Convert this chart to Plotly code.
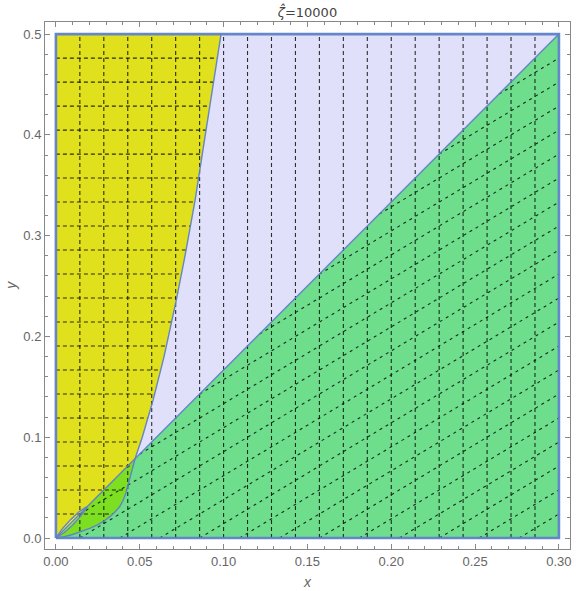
import numpy as np
import plotly.graph_objects as go

# --- values ---

# full box and the straight green/lavender boundary (origin -> top right corner)
box_x = [0.0, 0.3, 0.3, 0.0]
box_y = [0.0, 0.0, 0.5, 0.5]
diag_x = [0.0, 0.3]
diag_y = [0.0, 0.5]

# yellow / lavender boundary: junction with the diagonal up to the top edge
upper_x = [0.0472, 0.0515, 0.0580, 0.0645, 0.0718, 0.0770, 0.0830, 0.0872, 0.0909, 0.0946, 0.0985]
upper_y = [0.0787, 0.100, 0.137, 0.180, 0.236, 0.280, 0.335, 0.380, 0.420, 0.460, 0.500]

# lower edge of the bright green sliver: origin up to the junction
lower_x = [0.0, 0.005, 0.010, 0.015, 0.0202, 0.0245, 0.0281, 0.0320, 0.0351, 0.0380,
           0.0400, 0.0418, 0.0432, 0.0447, 0.0460, 0.0472]
lower_y = [0.0, 0.0013, 0.0035, 0.0062, 0.0096, 0.0128, 0.0162, 0.0210, 0.0255, 0.0310,
           0.0370, 0.0450, 0.0540, 0.0620, 0.0700, 0.0787]

# the small lens close to the origin
lens_top_x = [0.0, 0.004, 0.009, 0.014, 0.0175, 0.0186]
lens_top_y = [0.0, 0.0095, 0.0185, 0.0262, 0.0302, 0.031]
lens_bot_x = [0.0, 0.005, 0.010, 0.015, 0.0178, 0.0186]
lens_bot_y = [0.0, 0.0055, 0.0130, 0.0222, 0.0285, 0.031]

n_mesh = 20  # mesh lines per direction

# colours
yellow = "#e0e01c"
lavender = "#e0e0fa"
green = "#6ede8c"
bright_green = "#7ddf22"
lens_yellow = "#f6f64a"
lens_green = "#a6e64a"
edge = "rgba(94,129,200,0.95)"
mesh = "rgba(0,0,0,0.8)"
grey = "#666666"


def fill(xs, ys, color):
    return go.Scatter(x=xs, y=ys, fill="toself", fillcolor=color, mode="lines",
                      line=dict(width=0), hoverinfo="skip", showlegend=False)


def segs(pairs):
    """Join line segments into one trace with None gaps."""
    xs, ys = [], []
    for (x0, y0), (x1, y1) in pairs:
        xs += [x0, x1, None]
        ys += [y0, y1, None]
    return xs, ys


fig = go.Figure()

# filled regions
fig.add_trace(fill(box_x, box_y, lavender))
fig.add_trace(fill([0.0, 0.3, 0.3], [0.0, 0.0, 0.5], green))
fig.add_trace(fill(lower_x + upper_x[1:] + [0.0],
                   lower_y + upper_y[1:] + [0.5], yellow))
fig.add_trace(fill(lower_x + [0.0], lower_y + [0.0], bright_green))
fig.add_trace(fill(lens_top_x + [0.0], lens_top_y + [0.0], lens_yellow))
fig.add_trace(fill(lens_bot_x + [0.0], lens_bot_y + [0.0], lens_green))

# mesh lines
x_lo, x_hi = 0.0, 0.3
y_lo, y_hi = 0.0, 0.5
junc_y = upper_y[0]

# vertical lines through every region
vx = [x_lo + k * (x_hi - x_lo) / (n_mesh + 1) for k in range(1, n_mesh + 1)]
xs, ys = segs([((v, y_lo), (v, y_hi)) for v in vx])
fig.add_trace(go.Scatter(x=xs, y=ys, mode="lines", showlegend=False, hoverinfo="skip",
                         line=dict(color=mesh, width=1.1, dash="4px,3px")))

# horizontal lines, only inside the yellow region
hy = [y_lo + k * (y_hi - y_lo) / (n_mesh + 1) for k in range(1, n_mesh + 1)]
pairs = []
for h in hy:
    if h >= junc_y:
        right = float(np.interp(h, upper_y, upper_x))
    else:
        right = float(np.interp(h, lower_y, lower_x))
    pairs.append(((0.0, h), (right, h)))
xs, ys = segs(pairs)
fig.add_trace(go.Scatter(x=xs, y=ys, mode="lines", showlegend=False, hoverinfo="skip",
                         line=dict(color=mesh, width=1.1, dash="4px,3px")))

# diagonal lines x - y = c, only inside the green region
slope = diag_y[1] / diag_x[1]
c_lo, c_hi = x_hi - y_hi, x_hi - y_lo
pairs = []
for k in range(1, n_mesh + 1):
    c = c_lo + k * (c_hi - c_lo) / (n_mesh + 1)
    if c >= 0:
        start = (c, 0.0)
    else:
        sx = -c / (slope - 1.0)
        start = (sx, sx - c)
    pairs.append((start, (x_hi, x_hi - c)))
xs, ys = segs(pairs)
fig.add_trace(go.Scatter(x=xs, y=ys, mode="lines", showlegend=False, hoverinfo="skip",
                         line=dict(color=mesh, width=1.1, dash="3px,4px")))

# region boundaries
for bx, by in [(diag_x, diag_y), (upper_x, upper_y), (lower_x, lower_y),
               (lens_top_x, lens_top_y), (lens_bot_x, lens_bot_y)]:
    fig.add_trace(go.Scatter(x=bx, y=by, mode="lines", showlegend=False, hoverinfo="skip",
                             line=dict(color=edge, width=1.4)))
fig.add_trace(go.Scatter(x=box_x + [box_x[0]], y=box_y + [box_y[0]], mode="lines",
                         showlegend=False, hoverinfo="skip",
                         line=dict(color=edge, width=2.6)))

axis_style = dict(showgrid=False, zeroline=False, showline=True, linecolor="#888888",
                  linewidth=1, mirror="ticks", ticks="inside", ticklen=5,
                  tickcolor="#888888", tickfont=dict(color=grey, size=13))

fig.update_xaxes(range=[-0.0065, 0.3066], tickmode="linear", tick0=0, dtick=0.05,
                 tickformat=".2f",
                 minor=dict(dtick=0.01, tick0=0, ticks="inside", ticklen=3,
                            tickcolor="#888888", showgrid=False),
                 **axis_style)
fig.update_yaxes(range=[-0.0109, 0.512], tickmode="linear", tick0=0, dtick=0.1,
                 tickformat=".1f",
                 minor=dict(dtick=0.02, tick0=0, ticks="inside", ticklen=3,
                            tickcolor="#888888", showgrid=False),
                 **axis_style)

fig.add_annotation(text="<i>x</i>", x=0.5, y=-0.0626, xref="paper", yref="paper",
                   showarrow=False, font=dict(color=grey, size=14), yanchor="middle")
fig.add_annotation(text="<i>y</i>", x=-0.0664, y=0.5, xref="paper", yref="paper",
                   showarrow=False, textangle=-90, font=dict(color=grey, size=14),
                   xanchor="center")

fig.update_layout(
    width=576, height=591,
    margin=dict(l=45, r=4, t=22, b=42),
    plot_bgcolor="white", paper_bgcolor="white",
    font=dict(family="Liberation Sans", color=grey),
    title=dict(text="<i>ζ̂</i>=10000", x=0.5, xref="paper", xanchor="center",
               y=1 - 12 / 591, yanchor="middle",
               font=dict(family="DejaVu Sans", size=13, color="#444444")),
)

# drop the browser's default 8px page margin so the figure sits at the top-left corner
fig.write_html("out.html", config={"displayModeBar": False},
               post_script="document.body.style.margin = '0px';")
